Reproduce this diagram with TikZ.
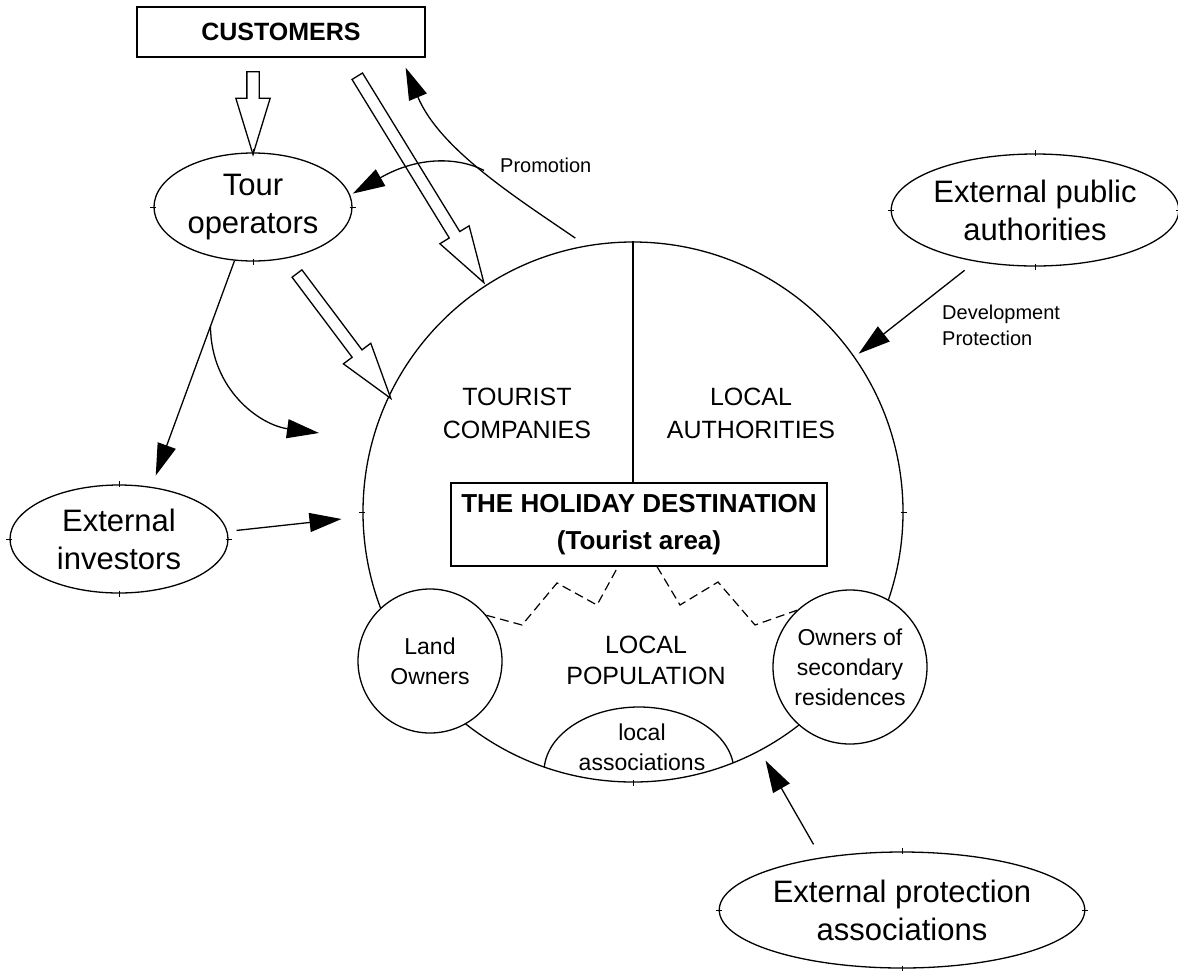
\documentclass[tikz,border=0pt]{standalone}
\usepackage{fontspec}
\setmainfont{Liberation Sans}
\usepackage{tikz}
\usetikzlibrary{shapes.geometric,shapes.arrows,arrows.meta,calc}
\tikzstyle{mybox} = [draw, rectangle, line width=1.3pt, inner sep=0pt, align=center]
\tikzstyle{myellipse} = [draw, ellipse, line width=1.3pt, inner sep=0pt, align=center,
    font=\fontsize{31}{38}\selectfont]
\tikzstyle{mycircle} = [draw, circle, fill=white, line width=1.3pt, inner sep=0pt, align=center,
    font=\fontsize{23}{30}\selectfont]
\tikzstyle{mylabel} = [align=center, inner sep=0pt, font=\fontsize{25}{33}\selectfont]
\tikzstyle{smalllabel} = [align=left, inner sep=0pt, font=\fontsize{20}{26}\selectfont]
\tikzstyle{pointer} = [line width=1.3pt, -{Triangle[length=32pt,width=19pt]}]
\tikzstyle{hollow} = [draw, single arrow, fill=white, line width=1.3pt, inner xsep=0pt, inner ysep=5.5pt,
    outer sep=0pt, single arrow head extend=11pt, single arrow tip angle=34]
\tikzstyle{handle} = [line width=0.8pt]
\tikzstyle{zigzag} = [line width=1.2pt, dash pattern=on 9pt off 5pt]
% wide hollow arrow from #1 to #2
\newcommand{\hollowarrow}[2]{%
  \path let \p1=(#1), \p2=(#2), \n1={atan2(\y2-\y1,\x2-\x1)}, \n2={veclen(\x2-\x1,\y2-\y1)} in
    node[hollow, minimum height=\n2, rotate=\n1] at ($(\p1)!0.5!(\p2)$) {};}
% small marks on the outline
\newcommand{\handles}[2][north/0/3,south/0/3,east/3/0,west/3/0]{%
  \foreach \a/\dx/\dy in {#1} {\draw[handle] (#2.\a) +(-\dx,-\dy) -- +(\dx,\dy);}}

\begin{document}
\begin{tikzpicture}[x=1pt, y=-1pt]
\useasboundingbox (0,0) rectangle (1178,970);

% the holiday destination
\node [draw, circle, line width=1.3pt, inner sep=0pt, minimum size=540pt] (dest) at (633,512) {};
\begin{scope}
\clip (633,512) circle (270);
\draw [line width=1.3pt] (639,772) ellipse (95 and 65);
\end{scope}
\node [mycircle, minimum size=144pt] (land) at (430,661) {Land\\Owners};
\node [mycircle, minimum size=154pt] (second) at (850,667) {Owners of\\secondary\\residences};
\node [mybox, minimum width=376pt, minimum height=83pt, font=\fontsize{26}{37}\selectfont\bfseries]
    (box) at (639,524.5) {THE HOLIDAY DESTINATION\\(Tourist area)};
\draw [line width=1.3pt] (dest.north) -- (dest.north |- box.north);
\node [mylabel] (companies) at (517,413) {TOURIST\\COMPANIES};
\node [mylabel] (authorities) at (751,413) {LOCAL\\AUTHORITIES};
\node [mylabel, font=\fontsize{25}{31}\selectfont] (population) at (646,660) {LOCAL\\POPULATION};
\node [align=center, inner sep=0pt, font=\fontsize{23}{30}\selectfont] (assoc) at (642,747) {local\\associations};
\draw [zigzag] (land.39) -- (522,625) -- (557,583) -- (597,605) -- ([xshift=-21pt]box.south);
\draw [zigzag] ([xshift=18pt]box.south) -- (680,605) -- (718,582) -- (755,625) -- (second.133);

% outside actors
\node [mybox, minimum width=288pt, minimum height=50pt, font=\fontsize{25}{30}\selectfont\bfseries]
    (customers) at (281,32) {CUSTOMERS};
\node [myellipse, minimum width=198pt, minimum height=108pt] (tour) at (253,207) {Tour\\operators};
\node [myellipse, minimum width=218pt, minimum height=108pt] (investors) at (119,539) {External\\investors};
\node [myellipse, minimum width=284pt, minimum height=112pt] (public) at (1035,210) {External public\\authorities};
\node [myellipse, minimum width=356pt, minimum height=116pt] (protection) at (902,910) {External protection\\associations};

% flows
\hollowarrow{$(customers.south)+(-28,4)$}{$(tour.north)+(0,-8)$}
\hollowarrow{$(customers.south)+(71,10)$}{$(dest.123)+(-7,-11)$}
\hollowarrow{$(tour.-57)+(4.5,7)$}{$(dest.154)+(-5,-3)$}

\draw [pointer, shorten >=12pt] (tour.251) -- coordinate[pos=0.29] (split) (investors.58);
\coordinate (tcin) at (319,433);
\draw [pointer] (split) .. controls (211,390) and (260,425) .. (tcin);
\draw [pointer, shorten <=9pt, shorten >=21pt] (investors.4) -- (dest.181);

\draw [pointer, shorten <=13pt] (dest.100) .. controls (520,200) and (440,150) ..
    ([xshift=-20pt,yshift=-10pt]customers.south east) coordinate[pos=0.5] (promo);
\draw [pointer, shorten >=3pt] (promo) .. controls (460,158) and (420,155) .. (tour.7);
\node [smalllabel, anchor=west] (promolabel) at (500,165) {Promotion};

\draw [pointer, shorten <=14pt, shorten >=5pt] (public.221) -- (dest.35.5);
\node [smalllabel, anchor=west] (devlabel) at (942,325) {Development\\Protection};
\draw [pointer, shorten <=15pt, shorten >=11pt] (protection.147) -- (dest.-62);

% outline marks
\handles{tour}
\handles{investors}
\handles{public}
\handles{protection}
\handles[west/3/0,east/3/0,south/0/3]{dest}
\end{tikzpicture}
\end{document}
